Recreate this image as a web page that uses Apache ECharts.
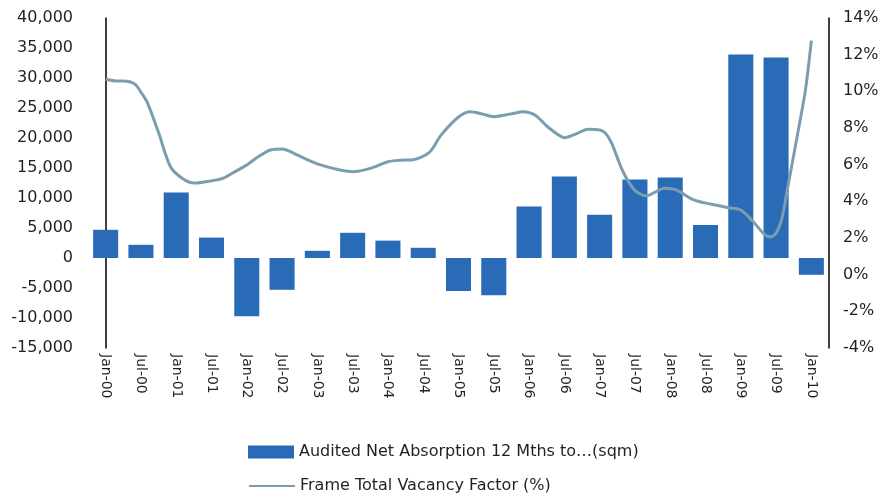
<!DOCTYPE html>
<html>
<head>
<meta charset="utf-8">
<script src="https://cdn.jsdelivr.net/npm/echarts@6/dist/echarts.min.js"></script>
<style>
  html, body { margin: 0; padding: 0; background: #fff; }
  #main { width: 887px; height: 499px; }
</style>
</head>
<body>
<div id="main"></div>
<script>
// half-yearly categories for the bars
const periods = ['Jan-00', 'Jul-00', 'Jan-01', 'Jul-01', 'Jan-02', 'Jul-02', 'Jan-03', 'Jul-03',
  'Jan-04', 'Jul-04', 'Jan-05', 'Jul-05', 'Jan-06', 'Jul-06', 'Jan-07', 'Jul-07',
  'Jan-08', 'Jul-08', 'Jan-09', 'Jul-09', 'Jan-10']
const absorption = [4700, 2200, 10900, 3400, -9700, -5300, 1200, 4200, 2900, 1700,
  -5500, -6200, 8600, 13600, 7200, 13100, 13400, 5500, 33900, 33400, -2800]

// vacancy line, months counted from Jan-00
const vacancyMonths = [0, 2, 3, 5, 6, 7, 9, 11, 13, 15, 18, 20, 22, 24, 26, 28, 30, 32, 34, 36,
  39, 42, 45, 48, 50, 52, 55, 57, 60, 62, 64, 66, 69, 71, 73, 75, 77, 78, 80, 82,
  84, 85, 86, 88, 90, 92, 94, 95, 97, 100, 103, 106, 108, 110, 112, 113, 114, 115, 116, 118, 119, 120]
const vacancy = [10.66, 10.56, 10.56, 10.39, 9.95, 9.45, 7.75, 5.9, 5.26, 5.0, 5.12, 5.26, 5.62, 5.98, 6.44, 6.8, 6.86, 6.62, 6.31, 6.04,
  5.77, 5.62, 5.8, 6.16, 6.24, 6.26, 6.66, 7.6, 8.6, 8.89, 8.77, 8.62, 8.77, 8.89, 8.71, 8.11, 7.62, 7.47, 7.68, 7.93,
  7.89, 7.71, 7.2, 5.6, 4.6, 4.3, 4.6, 4.71, 4.62, 4.08, 3.84, 3.65, 3.53, 2.93, 2.2, 2.07, 2.26, 3.08, 4.8, 8.26, 10.08, 12.77]

const FONT = 'DejaVu Sans'
const TXT = '#231f20'
const BAR_NAME = 'Audited Net Absorption 12 Mths to…(sqm)'
const LINE_NAME = 'Frame Total Vacancy Factor (%)'

const chart = echarts.init(document.getElementById('main'))

const legendBase = {
  left: 248,
  padding: 0,
  itemWidth: 46,
  itemHeight: 13,
  textStyle: { fontFamily: FONT, fontSize: 16, color: TXT }
}

const option = {
  animation: false,
  textStyle: { fontFamily: FONT, color: TXT },
  grid: { left: 88, right: 58, top: 18, bottom: 151 },
  legend: [
    Object.assign({}, legendBase, { top: 444, data: [{ name: BAR_NAME, icon: 'rect' }] }),
    Object.assign({}, legendBase, { top: 478, data: [{ name: LINE_NAME, itemStyle: { opacity: 0 } }] })
  ],
  xAxis: [
    {
      type: 'category',
      data: periods,
      axisLine: { show: false },
      axisTick: { show: false },
      axisLabel: {
        rotate: -90,
        interval: 0,
        margin: 6,
        fontFamily: FONT,
        fontSize: 14,
        color: TXT
      }
    },
    {
      type: 'value',
      min: -3,
      max: 123,
      show: false
    }
  ],
  yAxis: [
    {
      type: 'value',
      min: -15000,
      max: 40000,
      interval: 5000,
      axisLine: { show: true, lineStyle: { color: '#000', width: 1.5 } },
      axisTick: { show: false },
      splitLine: { show: false },
      axisLabel: {
        margin: 15,
        fontFamily: FONT,
        fontSize: 16,
        color: TXT,
        formatter: v => v.toLocaleString('en-US')
      }
    },
    {
      type: 'value',
      min: -4,
      max: 14,
      interval: 2,
      position: 'right',
      axisLine: { show: true, lineStyle: { color: '#000', width: 1.5 } },
      axisTick: { show: false },
      splitLine: { show: false },
      axisLabel: {
        margin: 14,
        fontFamily: FONT,
        fontSize: 16,
        color: TXT,
        formatter: '{value}%'
      }
    }
  ],
  series: [
    {
      name: BAR_NAME,
      type: 'bar',
      data: absorption,
      barCategoryGap: '29%',
      itemStyle: { color: '#2a6bb8' }
    },
    {
      name: LINE_NAME,
      type: 'line',
      xAxisIndex: 1,
      yAxisIndex: 1,
      data: vacancyMonths.map((m, i) => [m, vacancy[i]]),
      smooth: 0.3,
      symbol: 'none',
      lineStyle: { color: '#7b9db0', width: 3 },
      itemStyle: { color: '#7b9db0' }
    }
  ]
}

option && chart.setOption(option)
</script>
</body>
</html>
